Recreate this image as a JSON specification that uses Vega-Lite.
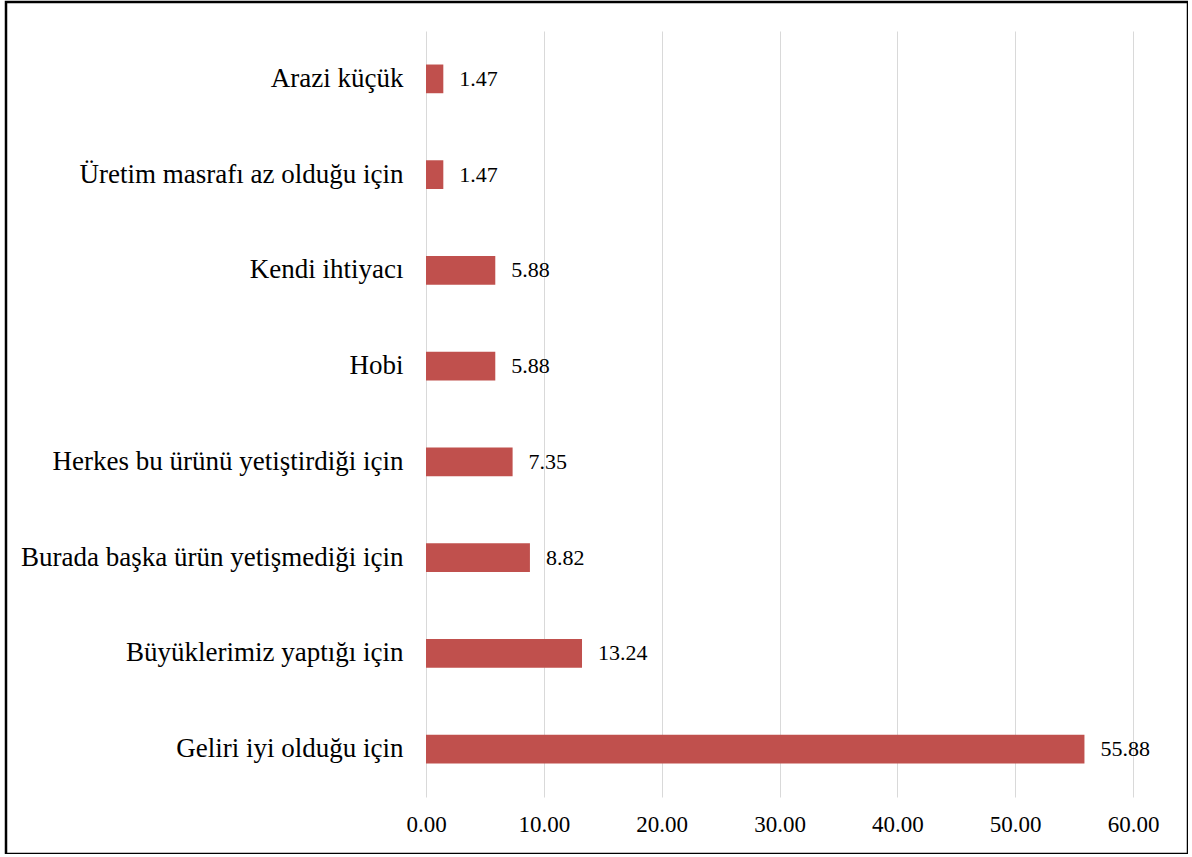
{
  "$schema": "https://vega.github.io/schema/vega-lite/v6.json",
  "autosize": {"type": "none"},
  "padding": {"left": 6, "top": 2, "right": 0, "bottom": 0},
  "width": 1182,
  "height": 852,
  "background": "white",
  "config": {"view": {"stroke": "#000000", "strokeWidth": 2.5}},
  "data": {
    "values": [
      {"reason": "Arazi küçük", "value": 1.47},
      {"reason": "Üretim masrafı az olduğu için", "value": 1.47},
      {"reason": "Kendi ihtiyacı", "value": 5.88},
      {"reason": "Hobi", "value": 5.88},
      {"reason": "Herkes bu ürünü yetiştirdiği için", "value": 7.35},
      {"reason": "Burada başka ürün yetişmediği için", "value": 8.82},
      {"reason": "Büyüklerimiz yaptığı için", "value": 13.24},
      {"reason": "Geliri iyi olduğu için", "value": 55.88}
    ]
  },
  "encoding": {
    "y": {
      "field": "reason",
      "type": "nominal",
      "sort": null,
      "scale": {"range": [29, 795], "paddingInner": 0.7, "paddingOuter": 0.35},
      "axis": {
        "orient": "left",
        "offset": -420,
        "domain": false,
        "ticks": false,
        "grid": false,
        "labelFont": "Liberation Serif",
        "labelFontSize": 27,
        "labelColor": "#000000",
        "labelPadding": 23,
        "labelLimit": 0,
        "title": null
      }
    }
  },
  "resolve": {"axis": {"x": "independent"}},
  "layer": [
    {
      "mark": {"type": "bar", "color": "#C0504D"},
      "encoding": {
        "x": {
          "field": "value",
          "type": "quantitative",
          "scale": {"domain": [0, 60], "range": [420, 1127], "nice": false},
          "axis": {
            "orient": "top",
            "values": [0, 10, 20, 30, 40, 50, 60],
            "domain": false,
            "ticks": false,
            "labels": false,
            "grid": true,
            "gridColor": "#D9D9D9",
            "gridWidth": 1,
            "title": null
          }
        }
      }
    },
    {
      "mark": {"type": "text", "align": "left", "baseline": "middle", "dx": 16, "font": "Liberation Serif", "fontSize": 22, "color": "#000000"},
      "encoding": {
        "x": {
          "field": "value",
          "type": "quantitative",
          "scale": {"domain": [0, 60], "range": [420, 1127], "nice": false},
          "axis": {
            "orient": "bottom",
            "offset": -57,
            "values": [0, 10, 20, 30, 40, 50, 60],
            "format": ".2f",
            "domain": false,
            "ticks": false,
            "grid": false,
            "labelFont": "Liberation Serif",
            "labelFontSize": 23,
            "labelColor": "#000000",
            "labelPadding": 16,
            "labelFlush": false,
            "title": null
          }
        },
        "text": {"field": "value", "type": "quantitative", "format": ".2f"}
      }
    }
  ]
}
